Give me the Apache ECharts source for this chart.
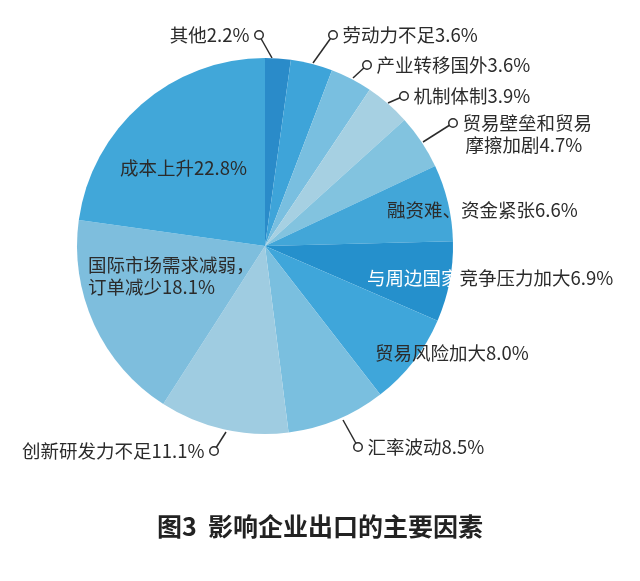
<!DOCTYPE html>
<html>
<head>
<meta charset="utf-8">
<script src="https://cdn.jsdelivr.net/npm/echarts@6/dist/echarts.min.js"></script>
<style>
html,body{margin:0;padding:0;background:#fff;}
#chart{width:640px;height:581px;}
</style>
</head>
<body>
<div id="chart"></div>
<script>
// ---- data (clockwise from 12 o'clock) ----
const categories = ['其他', '劳动力不足', '产业转移国外', '机制体制', '贸易壁垒和贸易摩擦加剧', '融资难、资金紧张', '与周边国家竞争压力加大', '贸易风险加大', '汇率波动', '创新研发力不足', '国际市场需求减弱，订单减少', '成本上升'];
const values = [2.2, 3.6, 3.6, 3.9, 4.7, 6.6, 6.9, 8.0, 8.5, 11.1, 18.1, 22.8];
const sliceColors = ['#2a8bc9', '#3ea4d9', '#79bfe0', '#a6d0e2', '#82c3df', '#42a6d8', '#2590cc', '#3fa6da', '#7abfdf', '#9fcce1', '#7ebedd', '#41a7d9'];
const title = '图3  影响企业出口的主要因素';

// ---- label placement (layout only) ----
const placement = [
  {type: 'out', side: 'after', cx: 259, cy: 35, sx: 272, sy: 58},
  {type: 'out', side: 'before', cx: 333, cy: 35, sx: 313, sy: 63},
  {type: 'out', side: 'before', cx: 367, cy: 65, sx: 353, sy: 78},
  {type: 'out', side: 'before', cx: 404, cy: 96, sx: 388, sy: 103},
  {type: 'out', side: 'before', cx: 453, cy: 123, sx: 423, sy: 142, brk: 7},
  {type: 'in', x: 387, y: 210},
  {type: 'in', x: 367, y: 278, whiteChars: 5},
  {type: 'in', x: 375, y: 353},
  {type: 'out', side: 'before', cx: 358, cy: 447, sx: 343, sy: 420},
  {type: 'out', side: 'after', cx: 214, cy: 451, sx: 226, sy: 432},
  {type: 'in', x: 88, y: 265, brk: 9},
  {type: 'in', x: 120, y: 168}
];

const FONT = '"Noto Sans CJK SC", "Noto Sans", sans-serif';
const FS = 18.5;
const LH = 22;
const R = 3.5;
const GAP = 6;

function pct(v) { return v.toFixed(1) + '%'; }

function labelText(i) {
  const p = placement[i];
  let full = categories[i] + pct(values[i]);
  if (p.type === 'in') {
    if (p.whiteChars) {
      return '{w|' + full.slice(0, p.whiteChars) + '}{t|' + full.slice(p.whiteChars) + '}';
    }
    if (p.brk) {
      return '{t|' + full.slice(0, p.brk) + '}\n{t|' + full.slice(p.brk) + '}';
    }
    return '{t|' + full + '}';
  }
  if (p.side === 'after') {
    return '{t|' + full + '}{sp| }{c| }';
  }
  if (p.brk) {
    return '{c| }{sp| }{t|' + full.slice(0, p.brk) + '}\n{ind| }{t|' + full.slice(p.brk) + '}';
  }
  return '{c| }{sp| }{t|' + full + '}';
}

const richStyles = {
  t: {fontSize: FS, color: '#2b2b2b', fontFamily: FONT, lineHeight: LH},
  w: {fontSize: FS, color: '#ffffff', fontFamily: FONT, lineHeight: LH},
  sp: {width: GAP, fontSize: 2, lineHeight: LH},
  ind: {width: GAP + 2 * R + 3, fontSize: 2, lineHeight: LH},
  c: {width: 2 * R, height: 2 * R, fontSize: 2, borderRadius: R, borderColor: '#2b2b2b', borderWidth: 1.5, backgroundColor: '#ffffff', verticalAlign: 'middle'}
};

const seriesData = categories.map(function (name, i) {
  const p = placement[i];
  return {
    name: name,
    value: values[i],
    itemStyle: {color: sliceColors[i]},
    label: {formatter: labelText(i)},
    labelLine: {show: p.type === 'out'}
  };
});

const chart = echarts.init(document.getElementById('chart'), null, {renderer: 'canvas'});
chart.setOption({
  backgroundColor: '#ffffff',
  animation: false,
  title: {
    text: title,
    left: 'center',
    top: 509,
    textStyle: {fontSize: 25, fontWeight: 'bold', color: '#222222', fontFamily: FONT}
  },
  series: [{
    type: 'pie',
    center: [265, 246],
    radius: 188,
    startAngle: 90,
    clockwise: true,
    avoidLabelOverlap: false,
    itemStyle: {borderWidth: 0},
    emphasis: {disabled: true},
    label: {
      show: true,
      position: 'outside',
      rich: richStyles,
      fontFamily: FONT
    },
    labelLine: {
      show: true,
      length: 10,
      length2: 0,
      lineStyle: {color: '#2b2b2b', width: 1.5}
    },
    labelLayout: function (params) {
      const p = placement[params.dataIndex];
      if (p.type === 'in') {
        return {x: p.x, y: p.y - LH / 2, align: 'left', verticalAlign: 'top', hideOverlap: false};
      }
      const x = p.side === 'before' ? p.cx - R : p.cx + R;
      return {
        x: x,
        y: p.cy - LH / 2,
        align: p.side === 'before' ? 'left' : 'right',
        verticalAlign: 'top',
        hideOverlap: false,
        labelLinePoints: [[p.sx, p.sy], [(p.sx + p.cx) / 2, (p.sy + p.cy) / 2], [p.cx, p.cy]]
      };
    },
    data: seriesData
  }]
});
</script>
</body>
</html>
